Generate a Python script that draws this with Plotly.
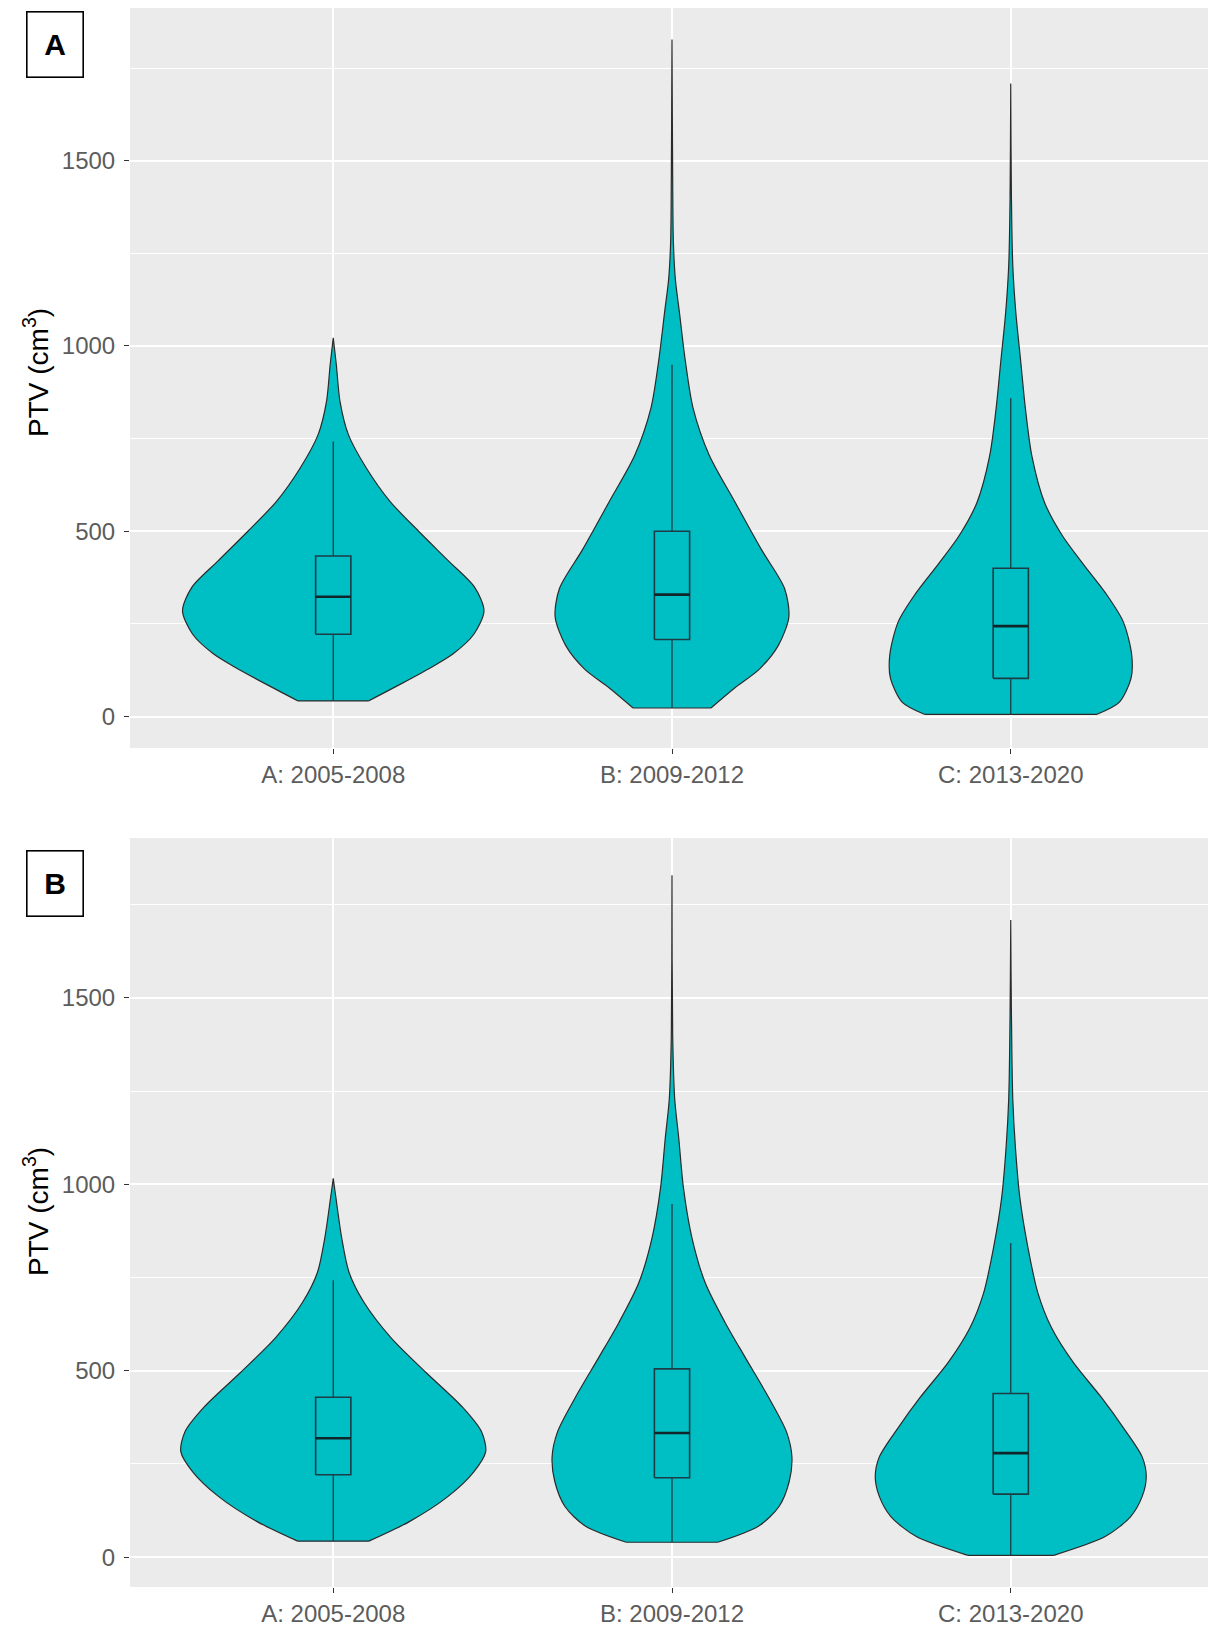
import plotly.graph_objects as go
from plotly.subplots import make_subplots

categories = ["A: 2005-2008", "B: 2009-2012", "C: 2013-2020"]
positions = [1, 2, 3]

# Violin outlines: PTV value (cm3) and half-width (category units)
a_vals_A = [42, 88, 133, 170, 222, 285, 348, 420, 500, 580, 670, 760, 850, 950, 1022]
a_width_A = [0.104, 0.2, 0.29, 0.355, 0.415, 0.445, 0.418, 0.34, 0.252, 0.168, 0.098, 0.045, 0.02, 0.009, 0.0]
a_vals_B = [23, 77, 128, 192, 269, 346, 449, 577, 705, 833, 962, 1090, 1179, 1282, 1450, 1827]
a_width_B = [0.115, 0.185, 0.258, 0.314, 0.345, 0.332, 0.265, 0.187, 0.11, 0.062, 0.039, 0.022, 0.01, 0.004, 0.002, 0.0]
a_vals_C = [6, 38, 103, 167, 256, 333, 410, 487, 577, 705, 833, 962, 1090, 1218, 1400, 1708]
a_width_C = [0.255, 0.32, 0.355, 0.357, 0.332, 0.28, 0.215, 0.153, 0.1, 0.062, 0.043, 0.029, 0.015, 0.006, 0.002, 0.0]

b_vals_A = [43, 96, 163, 229, 283, 336, 403, 496, 589, 683, 763, 856, 963, 1016]
b_width_A = [0.105, 0.226, 0.339, 0.415, 0.45, 0.438, 0.381, 0.273, 0.17, 0.091, 0.047, 0.025, 0.008, 0.0]
b_vals_B = [40, 83, 136, 203, 269, 336, 429, 536, 629, 736, 856, 989, 1123, 1229, 1400, 1829]
b_width_B = [0.135, 0.255, 0.316, 0.346, 0.354, 0.338, 0.285, 0.216, 0.157, 0.098, 0.059, 0.034, 0.02, 0.008, 0.002, 0.0]
b_vals_C = [5, 56, 109, 163, 216, 269, 349, 429, 523, 616, 709, 829, 963, 1096, 1229, 1456, 1709]
b_width_C = [0.127, 0.28, 0.354, 0.388, 0.4, 0.388, 0.331, 0.267, 0.184, 0.12, 0.08, 0.051, 0.027, 0.014, 0.006, 0.002, 0.0]

# box plot stats per group: lower whisker, q1, median, q3, upper whisker
a_lower = [42, 23, 6]
a_q1 = [222, 208, 103]
a_median = [323, 329, 244]
a_q3 = [433, 500, 400]
a_upper = [742, 949, 859]

b_lower = [43, 40, 5]
b_q1 = [221, 213, 169]
b_median = [319, 333, 279]
b_q3 = [429, 505, 439]
b_upper = [743, 947, 843]

FILL = "#00BFC4"
OUTLINE = "#2b2b2b"
BOX_W = 0.104
BOX_LINE = "#1c3d46"


def violin_trace(pos, vals, widths):
    # right side up, left side down; the fill closes along the flat bottom
    xs = [pos + w for w in widths] + [pos - w for w in reversed(widths)]
    ys = list(vals) + list(reversed(vals))
    return go.Scatter(x=xs, y=ys, mode="lines", fill="toself", fillcolor=FILL,
                      line=dict(color=OUTLINE, width=1.2, shape="spline", smoothing=0.8),
                      hoverinfo="skip", showlegend=False)


def line_trace(xs, ys, color, width):
    return go.Scatter(x=xs, y=ys, mode="lines", line=dict(color=color, width=width),
                      hoverinfo="skip", showlegend=False)


fig = make_subplots(rows=2, cols=1)

panels = [
    (1, [(a_vals_A, a_width_A), (a_vals_B, a_width_B), (a_vals_C, a_width_C)],
     a_lower, a_q1, a_median, a_q3, a_upper),
    (2, [(b_vals_A, b_width_A), (b_vals_B, b_width_B), (b_vals_C, b_width_C)],
     b_lower, b_q1, b_median, b_q3, b_upper),
]

for row, profiles, lo, q1, med, q3, up in panels:
    for pos, (vals, widths) in zip(positions, profiles):
        fig.add_trace(violin_trace(pos, vals, widths), row=row, col=1)
        fig.add_trace(line_trace([pos - widths[0], pos + widths[0]], [vals[0], vals[0]],
                                 OUTLINE, 1.2), row=row, col=1)
    # box plots drawn as lines so they sit on top of the filled violins
    for i, pos in enumerate(positions):
        x0, x1 = pos - BOX_W / 2, pos + BOX_W / 2
        fig.add_trace(line_trace([pos, pos], [lo[i], q1[i]], BOX_LINE, 1.3), row=row, col=1)
        fig.add_trace(line_trace([pos, pos], [q3[i], up[i]], BOX_LINE, 1.3), row=row, col=1)
        fig.add_trace(line_trace([x0, x1, x1, x0, x0], [q1[i], q1[i], q3[i], q3[i], q1[i]],
                                 BOX_LINE, 1.6), row=row, col=1)
        fig.add_trace(line_trace([x0, x1], [med[i], med[i]], "#10262b", 2.6), row=row, col=1)

tick_font = dict(family="Liberation Sans, Arial, sans-serif", size=24, color="#5c5c5c")

axis_x = dict(tickvals=positions, ticktext=categories, range=[0.4, 3.6],
              showgrid=True, gridcolor="white", gridwidth=1.6, zeroline=False,
              ticks="outside", ticklen=5, tickwidth=1.1, tickcolor="#333333",
              tickfont=tick_font, showline=False, automargin=False)
axis_y = dict(tickvals=[0, 500, 1000, 1500], showgrid=True, gridcolor="white",
              gridwidth=1.6, zeroline=False, ticks="outside", ticklen=5,
              tickwidth=1.1, tickcolor="#333333", tickfont=tick_font, showline=False,
              automargin=False, ticklabelstandoff=4,
              minor=dict(tickvals=[250, 750, 1250, 1750], showgrid=True,
                         gridcolor="white", gridwidth=0.8, ticks=""))

# the page adds an 8px body margin, so the figure is a bit smaller than the window
W, H = 1208, 1618
ML, MR, MT, MB = 122, 2, 0, 39
pw, ph = W - ML - MR, H - MT - MB


def px_x(p):
    return (p - ML) / pw


def px_y(p):
    return (H - MB - p) / ph


fig.update_layout(
    xaxis=dict(axis_x, domain=[0, 1], anchor="y"),
    xaxis2=dict(axis_x, domain=[0, 1], anchor="y2"),
    yaxis=dict(axis_y, domain=[px_y(740), 1.0], range=[-85, 1912]),
    yaxis2=dict(axis_y, domain=[0.0, px_y(830)], range=[-80, 1929]),
)

annotations = []
for label, cy, title_y in [("A", 36, 365), ("B", 875, 1204)]:
    annotations.append(dict(
        x=px_x(47), y=px_y(cy), xref="paper", yref="paper",
        text="<b>" + label + "</b>", showarrow=False,
        font=dict(family="Liberation Sans, Arial, sans-serif", size=30, color="black"),
        bordercolor="black", borderwidth=1.6, bgcolor="white",
        width=53, height=62, xanchor="center", yanchor="middle"))
    annotations.append(dict(
        x=px_x(28), y=px_y(title_y), xref="paper", yref="paper",
        text="PTV (cm<sup>3</sup>)", showarrow=False, textangle=-90,
        font=dict(family="Liberation Sans, Arial, sans-serif", size=28, color="black"),
        xanchor="center", yanchor="middle"))

fig.update_layout(
    width=W, height=H,
    margin=dict(l=ML, r=MR, t=MT, b=MB),
    plot_bgcolor="#EBEBEB", paper_bgcolor="white",
    showlegend=False,
    annotations=annotations,
)

fig.write_html("out.html")
